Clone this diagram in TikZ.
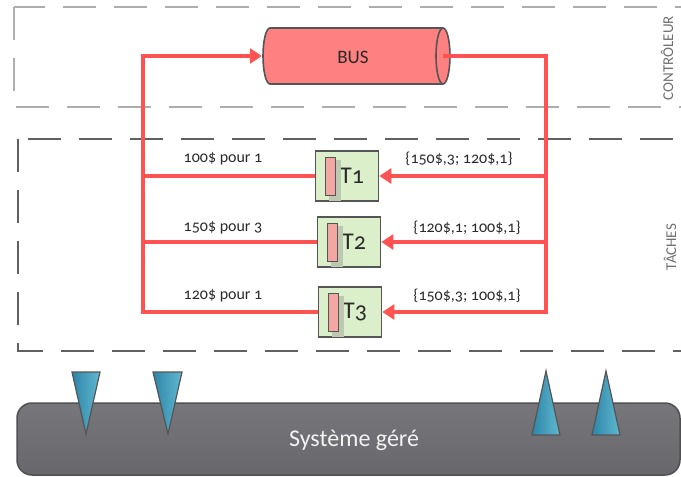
\documentclass[tikz,border=0pt]{standalone}
\usepackage{fontspec}
\setmainfont[Numbers=OldStyle]{Carlito}
\usetikzlibrary{arrows.meta}
\definecolor{myred}{HTML}{FF5252}
\definecolor{busfill}{HTML}{FF8080}
\definecolor{taskgreen}{HTML}{DCEFCB}
\definecolor{shadowgreen}{HTML}{BCC8B0}
\definecolor{pinkbar}{HTML}{F2A7A3}
\definecolor{boxgray}{HTML}{555555}
\definecolor{ctrlgray}{HTML}{ADADAD}
\definecolor{taskdash}{HTML}{606060}
\definecolor{sysfillA}{HTML}{77767A}
\definecolor{sysfillB}{HTML}{68676B}
\definecolor{sysdraw}{HTML}{505050}
\definecolor{triA}{HTML}{2C86A8}
\definecolor{triB}{HTML}{62B8D0}
\definecolor{textdark}{HTML}{2A2A2A}
\definecolor{labgray}{HTML}{707070}
\begin{document}
\begin{tikzpicture}[x=1pt,y=-1pt,
  redline/.style={draw=myred, line width=3.5pt},
  tipped/.style={-{Triangle[length=12pt,width=15pt]}},
  task/.style={draw=boxgray, line width=1.6pt, fill=taskgreen, minimum width=63pt, minimum height=50pt, inner sep=0pt, font=\fontsize{24}{26}\selectfont, text=textdark},
  lbl/.style={font=\fontsize{16}{18}\selectfont, text=textdark},
  sidelbl/.style={rotate=90, font=\fontsize{15}{17}\selectfont, text=labgray},
  tri/.style={draw=boxgray, line width=1.2pt, left color=triA, right color=triB},
  bar/.style={draw=boxgray, line width=1.3pt, fill=pinkbar},
]
\useasboundingbox (0,0) rectangle (681,477);

% dashed regions
\draw[ctrlgray, line width=2pt, dash pattern=on 33pt off 18pt] (14,7) rectangle (720,107);
\draw[taskdash, line width=2pt, dash pattern=on 33pt off 18pt] (18,139) rectangle (720,351);
\node[sidelbl] (ctrl) at (667,58) {CONTRÔLEUR};
\node[sidelbl] (taches) at (670,247) {TÂCHES};

% bus cylinder
\node[minimum width=188pt, minimum height=56pt, inner sep=0pt] (bus) at (356,56) {};
\draw[boxgray, line width=1.6pt, fill=busfill]
  (270,28) -- (443,28) arc(-90:90:7 and 28) -- (270,84) arc(90:270:7 and 28) -- cycle;
\draw[boxgray, line width=1.6pt] (443,28) arc(-90:-270:7 and 28);
\node[font=\fontsize{19}{21}\selectfont, text=textdark] (bustxt) at (353,57) {BUS};

% tasks
\node[task] (t1) at (347,176) {\hspace*{10pt}T1};
\node[task] (t2) at (349,242) {\hspace*{10pt}T2};
\node[task] (t3) at (350,312) {\hspace*{10pt}T3};
\foreach \n in {t1,t2,t3}{
  \fill[shadowgreen] ([xshift=14pt,yshift=-10pt]\n.north west) rectangle ([xshift=26pt,yshift=1pt]\n.south west);
  \draw[bar] ([xshift=11pt,yshift=-7pt]\n.north west) rectangle ([xshift=21pt,yshift=6pt]\n.south west);
}

% red connectors
\coordinate (lt) at (143,56);
\coordinate (rt) at (546,56);
\coordinate (busout) at (443,56);
\draw[redline, tipped] (t3.west) -- (t3.west -| lt) -- (lt) -- (bus.west);
\draw[redline] (t1.west) -- (t1.west -| lt);
\draw[redline] (t2.west) -- (t2.west -| lt);
\draw[redline, tipped] (busout) -- (rt) -- (rt |- t3.east) -- (t3.east);
\draw[redline, tipped] (rt |- t1.east) -- (t1.east);
\draw[redline, tipped] (rt |- t2.east) -- (t2.east);

% labels
\node[lbl] (l1) at (223,159) {100\$ pour 1};
\node[lbl] (l2) at (223,228) {150\$ pour 3};
\node[lbl] (l3) at (223,296) {120\$ pour 1};
\node[lbl] (r1) at (459,159) {\{150\$,3; 120\$,1\}};
\node[lbl] (r2) at (467,228) {\{120\$,1; 100\$,1\}};
\node[lbl] (r3) at (467,296) {\{150\$,3; 100\$,1\}};

% managed system
\node[draw=sysdraw, line width=1.5pt, rounded corners=15pt, top color=sysfillA, bottom color=sysfillB, minimum width=663pt, minimum height=72pt] (sys) at (348.5,439) {};
\node[font=\fontsize{24}{26}\selectfont, text=white!90!gray] (systxt) at (354,440) {Système géré};

% sensors / effectors
\draw[tri] (72,372) -- (100,372) -- (86,434) -- cycle;
\draw[tri] (153,372) -- (182,372) -- (168,434) -- cycle;
\draw[tri] (546,371) -- (560,435) -- (532,435) -- cycle;
\draw[tri] (606,371) -- (620,435) -- (592,435) -- cycle;
\end{tikzpicture}
\end{document}
